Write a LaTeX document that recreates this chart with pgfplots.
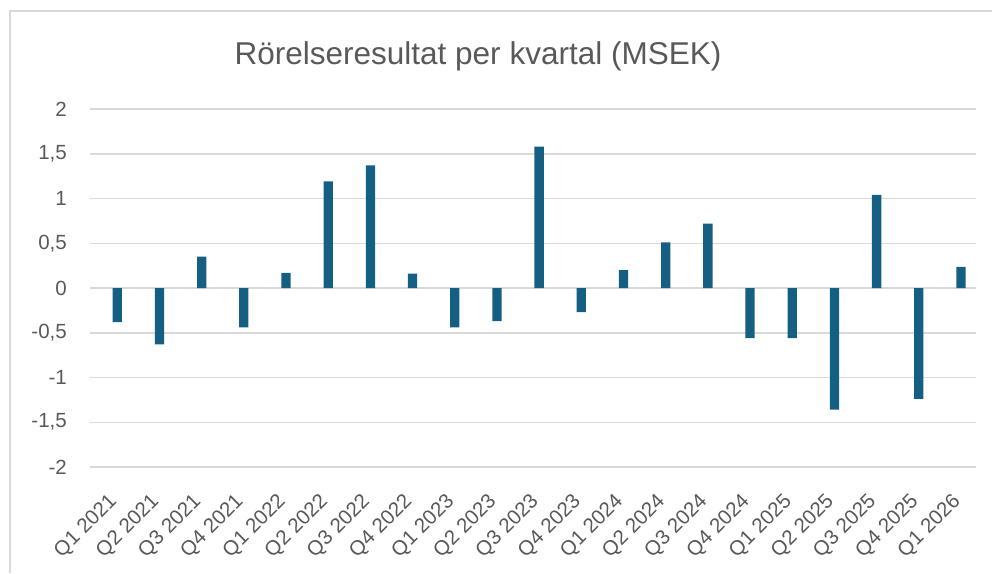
\documentclass[border=0pt]{standalone}
\usepackage{fontspec}
\setmainfont{Liberation Sans}
\usepackage{pgfplots}
\pgfplotsset{compat=1.18}
\definecolor{barblue}{HTML}{156082}
\definecolor{txtgray}{HTML}{595959}
\definecolor{gridgray}{HTML}{D9D9D9}
\begin{document}
\begin{tikzpicture}
\path[use as bounding box] (0pt,0pt) rectangle (992pt,573pt);
\draw[gridgray, line width=1.5pt] (10pt,0pt) -- (10pt,562pt) -- (993pt,562pt);
\node[txtgray, anchor=base, inner sep=0pt] at (478pt,508pt) {\resizebox{487pt}{!}{\fontsize{30}{36}\selectfont Rörelseresultat per kvartal (MSEK)}};
\begin{axis}[
  at={(90pt,106pt)}, anchor=south west,
  scale only axis, width=886pt, height=358pt,
  xmin=-0.647, xmax=20.356, ymin=-2, ymax=2,
  axis line style={draw=none},
  major tick length=0pt,
  ymajorgrids,
  grid style={gridgray, line width=1.5pt},
  ytick={-2,-1.5,-1,-0.5,0,0.5,1,1.5,2},
  yticklabels={{-2},{-1,5},{-1},{-0,5},{0},{0,5},{1},{1,5},{2}},
  xtick={0,...,20},
  xticklabels={Q1 2021,Q2 2021,Q3 2021,Q4 2021,Q1 2022,Q2 2022,Q3 2022,Q4 2022,Q1 2023,Q2 2023,Q3 2023,Q4 2023,Q1 2024,Q2 2024,Q3 2024,Q4 2024,Q1 2025,Q2 2025,Q3 2025,Q4 2025,Q1 2026},
  tick label style={font=\fontsize{20.5}{24}\selectfont, text=txtgray},
  yticklabel style={anchor=east, inner sep=0pt, xshift=-23pt},
  xticklabel style={xshift=-10pt, yshift=-25pt, rotate=45, anchor=north east, inner sep=0pt},
  ybar, bar width=9.3pt,
]
\addplot[fill=barblue, draw=none] coordinates {
(0,-0.38) (1,-0.63) (2,0.35) (3,-0.44) (4,0.17) (5,1.19) (6,1.37) (7,0.16)
(8,-0.44) (9,-0.37) (10,1.58) (11,-0.27) (12,0.20) (13,0.51) (14,0.72)
(15,-0.56) (16,-0.56) (17,-1.36) (18,1.04) (19,-1.24) (20,0.235)
};
\end{axis}
\end{tikzpicture}
\end{document}
